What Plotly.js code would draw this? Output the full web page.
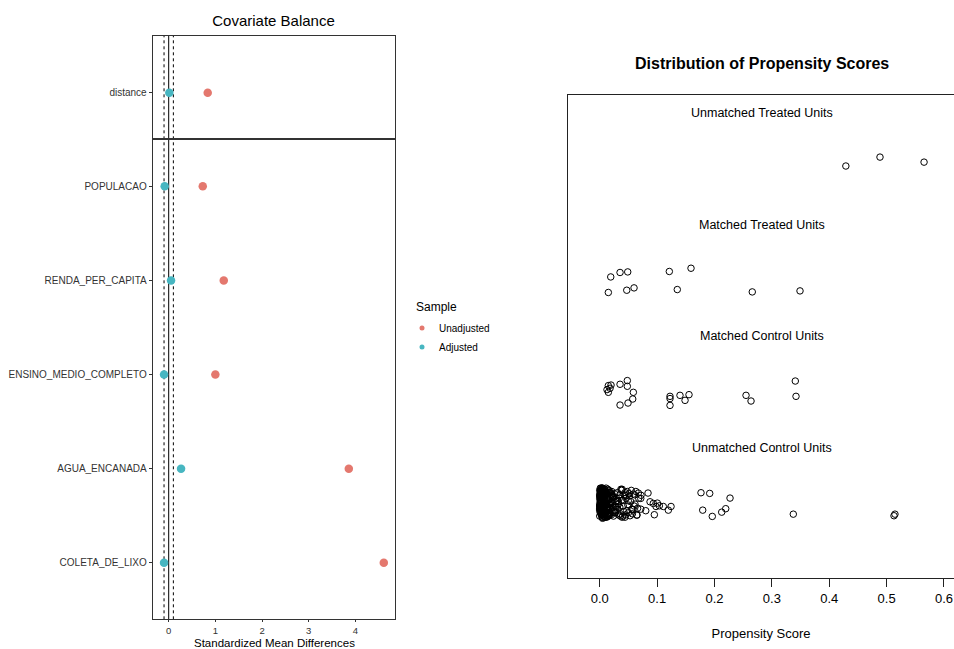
<!DOCTYPE html>
<html>
<head>
<meta charset="utf-8">
<script src="https://cdn.plot.ly/plotly-3.0.1.min.js"></script>
<style>
html,body{margin:0;padding:0;background:#fff;}
#chart{width:954px;height:649px;}
</style>
</head>
<body>
<div id="chart"></div>
<script>
// ---------- Covariate balance (love plot) ----------
const covariates = ['POPULACAO','RENDA_PER_CAPITA','ENSINO_MEDIO_COMPLETO','AGUA_ENCANADA','COLETA_DE_LIXO'];
const covUnadjusted = [0.73, 1.18, 1.00, 3.86, 4.61];
const covAdjusted = [-0.086, 0.05, -0.10, 0.265, -0.10];
const distanceLabel = ['distance'];
const distanceUnadjusted = [0.836];
const distanceAdjusted = [0.013];
const smdTicks = [0, 1, 2, 3, 4];
const thresholds = [-0.1, 0.1];
const sampleNames = ['Unadjusted', 'Adjusted'];
const smdTitle = 'Standardized Mean Differences';

// ---------- Propensity score distribution ----------
const groupLabels = ['Unmatched Treated Units','Matched Treated Units','Matched Control Units','Unmatched Control Units'];
const groupLabelY = [4, 3, 2, 1];
const groupLabelX = 0.283;
const psTicks = [0.0, 0.1, 0.2, 0.3, 0.4, 0.5, 0.6];
const psTickText = ['0.0','0.1','0.2','0.3','0.4','0.5','0.6'];

const treatedUnmatchedX = [0.429, 0.4885, 0.5653];
const treatedUnmatchedY = [3.524, 3.604, 3.559];

const treatedMatchedX = [0.0192,0.0354,0.0488,0.0150,0.0471,0.0598,0.1213,0.1591,0.1352,0.2659,0.3491];
const treatedMatchedY = [2.531,2.571,2.576,2.392,2.412,2.433,2.580,2.609,2.418,2.397,2.406];

const controlMatchedX = [0.0150,0.0197,0.0127,0.0180,0.0150,0.0354,0.0481,0.0481,0.0586,0.0575,0.0493,0.0354,
  0.1225,0.1225,0.1225,0.1399,0.1487,0.1556,0.2550,0.2637,0.3409,0.3421];
const controlMatchedY = [1.558,1.563,1.522,1.534,1.498,1.570,1.603,1.552,1.498,1.438,1.402,1.384,
  1.462,1.442,1.381,1.471,1.426,1.477,1.471,1.420,1.599,1.462];

const controlUnmatchedX = [
  0.001,0.004,0.002,0.007,0.000,0.011,0.003,0.009,0.005,0.014,
  0.002,0.006,0.001,0.012,0.008,0.000,0.016,0.004,0.010,0.003,
  0.005,0.001,0.013,0.007,0.002,0.018,0.009,0.000,0.006,0.011,
  0.003,0.015,0.001,0.008,0.020,0.004,0.012,0.002,0.017,0.006,
  0.000,0.009,0.022,0.005,0.013,0.001,0.010,0.024,0.003,0.007,
  0.014,0.002,0.006,0.019,0.000,0.011,0.026,0.004,0.008,0.016,
  0.001,0.021,0.007,0.003,0.012,0.028,0.005,0.009,0.000,0.018,
  0.006,0.002,0.015,0.023,0.010,0.001,0.004,0.027,0.013,0.008,
  0.002,0.011,0.000,0.017,0.005,0.029,0.008,0.014,0.003,0.020,
  0.009,0.004,0.025,0.001,0.012,0.006,0.019,0.000,0.015,0.030,
  0.003,0.016,0.007,0.010,0.022,0.002,0.013,0.005,0.026,0.001,
  0.008,0.000,0.018,0.004,0.011,0.024,0.006,0.015,0.002,0.021,
  0.012,0.005,0.001,0.027,0.009,0.003,0.017,0.007,0.029,0.000,
  0.004,0.019,0.010,0.002,0.014,0.006,0.023,0.001,0.011,0.016,
  0.007,0.013,0.003,0.020,0.000,0.025,0.008,0.012,0.005,0.018,
  0.010,0.001,0.022,0.006,0.016,0.002,0.028,0.009,0.004,0.014,
  0.031,0.035,0.033,0.038,0.032,0.041,0.036,0.034,0.044,0.039,
  0.037,0.042,0.046,0.033,0.040,0.048,0.035,0.043,0.050,0.038,
  0.045,0.052,0.031,0.047,0.055,0.041,0.058,0.036,0.049,0.061,
  0.054,0.063,0.044,0.066,0.051,0.057,0.068,0.060,0.039,0.065,
  0.0458,0.0498,0.0558,0.0528,0.0645,0.0715,0.0615,0.0586,0.0673,0.0715,0.0802,
  0.0952,0.0842,0.0877,0.0934,0.0981,0.1039,0.1108,0.1196,0.1243,0.0720,0.1004,
  0.1765,0.1917,0.2271,0.1795,0.1962,0.2126,0.2196,0.3374,0.5129,0.5146
];
const controlUnmatchedY = [
  0.42,0.55,0.61,0.47,0.39,0.58,0.51,0.63,0.44,0.50,
  0.60,0.40,0.53,0.45,0.57,0.48,0.62,0.38,0.52,0.56,
  0.46,0.59,0.41,0.54,0.63,0.49,0.43,0.57,0.39,0.61,
  0.52,0.44,0.48,0.62,0.40,0.58,0.55,0.45,0.60,0.41,
  0.55,0.38,0.51,0.64,0.47,0.60,0.42,0.56,0.53,0.49,
  0.39,0.57,0.44,0.50,0.62,0.46,0.59,0.41,0.63,0.54,
  0.48,0.61,0.56,0.40,0.43,0.52,0.38,0.58,0.50,0.45,
  0.62,0.45,0.39,0.57,0.49,0.54,0.64,0.42,0.60,0.40,
  0.43,0.50,0.58,0.41,0.61,0.47,0.55,0.63,0.46,0.59,
  0.57,0.63,0.44,0.49,0.38,0.60,0.52,0.45,0.40,0.53,
  0.40,0.54,0.62,0.43,0.57,0.51,0.46,0.59,0.42,0.64,
  0.51,0.48,0.41,0.60,0.64,0.39,0.56,0.53,0.47,0.58,
  0.59,0.42,0.46,0.48,0.53,0.62,0.40,0.61,0.55,0.44,
  0.45,0.60,0.50,0.55,0.39,0.63,0.47,0.52,0.58,0.42,
  0.53,0.39,0.64,0.51,0.46,0.43,0.61,0.49,0.37,0.57,
  0.38,0.62,0.56,0.42,0.50,0.57,0.45,0.60,0.48,0.39,
  0.45,0.58,0.40,0.62,0.52,0.48,0.41,0.55,0.60,0.38,
  0.63,0.43,0.55,0.50,0.39,0.61,0.47,0.58,0.42,0.53,
  0.40,0.57,0.60,0.44,0.62,0.53,0.45,0.39,0.49,0.58,
  0.52,0.61,0.38,0.46,0.59,0.41,0.55,0.48,0.63,0.40,
  0.572,0.527,0.452,0.393,0.398,0.452,0.497,0.587,0.596,0.548,0.438,
  0.402,0.596,0.518,0.503,0.476,0.482,0.476,0.443,0.476,0.576,0.506,
  0.599,0.593,0.551,0.443,0.387,0.425,0.456,0.407,0.393,0.407
];

// ---------- styling ----------
const W = 954, H = 649;
const colUnadj = '#E4786E';
const colAdj = '#47B6C1';
const font = 'Liberation Sans, Arial, sans-serif';
const px = v => v / W;
const py = v => 1 - v / H;

const leftDom = [px(152.7), px(395)];
const botDom = [py(619.3), py(139.3)];
const topDom = [py(139.3), py(35.7)];
const rightXDom = [px(568), 1];
const rightYDom = [py(577.5), py(95)];

const dot = (c) => ({color: c, size: 8.5});
const openCircle = {symbol: 'circle-open', size: 6.5, color: '#000', line: {width: 1, color: '#000'}};

const traces = [
  {type:'scatter', mode:'markers', x: covUnadjusted, y: covariates, xaxis:'x', yaxis:'y', marker: dot(colUnadj), name: sampleNames[0], showlegend:false, cliponaxis:false},
  {type:'scatter', mode:'markers', x: covAdjusted, y: covariates, xaxis:'x', yaxis:'y', marker: dot(colAdj), name: sampleNames[1], showlegend:false, cliponaxis:false},
  {type:'scatter', mode:'markers', x: distanceUnadjusted, y: distanceLabel, xaxis:'x2', yaxis:'y2', marker: dot(colUnadj), showlegend:false},
  {type:'scatter', mode:'markers', x: distanceAdjusted, y: distanceLabel, xaxis:'x2', yaxis:'y2', marker: dot(colAdj), showlegend:false},
  {type:'scatter', mode:'markers', x: treatedUnmatchedX, y: treatedUnmatchedY, xaxis:'x3', yaxis:'y3', marker: openCircle, showlegend:false},
  {type:'scatter', mode:'markers', x: treatedMatchedX, y: treatedMatchedY, xaxis:'x3', yaxis:'y3', marker: openCircle, showlegend:false},
  {type:'scatter', mode:'markers', x: controlMatchedX, y: controlMatchedY, xaxis:'x3', yaxis:'y3', marker: openCircle, showlegend:false},
  {type:'scatter', mode:'markers', x: controlUnmatchedX, y: controlUnmatchedY, xaxis:'x3', yaxis:'y3', marker: openCircle, showlegend:false}
];

const shapes = [];
// reference lines across both facets
shapes.push({type:'line', xref:'x', yref:'paper', x0:0, x1:0, y0:botDom[0], y1:topDom[1], line:{color:'#000', width:1}, layer:'below'});
thresholds.forEach(t => shapes.push({type:'line', xref:'x', yref:'paper', x0:t, x1:t, y0:botDom[0], y1:topDom[1], line:{color:'#000', width:1, dash:'3px,3px'}, layer:'below'}));
// legend keys
const legendDotY = [328, 347];
sampleNames.forEach((n, i) => {
  const c = i === 0 ? colUnadj : colAdj;
  shapes.push({type:'circle', xref:'paper', yref:'paper', x0:px(419.5), x1:px(424.5), y0:py(legendDotY[i]+2.5), y1:py(legendDotY[i]-2.5), fillcolor:c, line:{width:0}});
});

const annotations = [
  {xref:'paper', yref:'paper', x:px(761.5), y:py(64), text:'<b>Distribution of Propensity Scores</b>', showarrow:false, xanchor:'center', yanchor:'middle', font:{family:font, size:16, color:'#000'}},
  {xref:'paper', yref:'paper', x:px(414), y:py(307), text:'Sample', showarrow:false, xanchor:'left', yanchor:'middle', font:{family:font, size:12, color:'#000'}},
  {xref:'paper', yref:'paper', x:px(274), y:py(650), text:smdTitle, showarrow:false, xanchor:'center', yanchor:'bottom', borderpad:0, font:{family:font, size:11.5, color:'#000'}},
];
sampleNames.forEach((n, i) => annotations.push({xref:'paper', yref:'paper', x:px(437), y:py(legendDotY[i]), text:n, showarrow:false, xanchor:'left', yanchor:'middle', font:{family:font, size:10, color:'#000'}}));
groupLabels.forEach((t, i) => annotations.push({xref:'x3', yref:'y3', x:groupLabelX, y:groupLabelY[i], text:t, showarrow:false, xanchor:'center', yanchor:'middle', font:{family:font, size:12.5, color:'#000'}}));

const borderCol = '#333';
const layout = {
  width: W, height: H,
  margin: {l:0, r:0, t:0, b:0, pad:0},
  paper_bgcolor:'#fff', plot_bgcolor:'#fff',
  font: {family: font, color:'#000'},
  showlegend: false,
  title: {text:'Covariate Balance', x: px(273.5), xanchor:'center', y: py(21), yanchor:'middle', font:{family:font, size:15, color:'#000'}},
  xaxis: {domain: leftDom, anchor:'y', range:[-0.343, 4.85], tickvals: smdTicks, ticks:'outside', ticklen:2, tickcolor:borderCol,
    showgrid:false, zeroline:false, showline:true, mirror:true, linecolor:borderCol, linewidth:1,
    tickfont:{family:font, size:9.5, color:'#333'}},
  yaxis: {domain: botDom, anchor:'x', type:'category', categoryorder:'array', categoryarray: covariates.slice().reverse(), range:[-0.6, 4.5],
    ticks:'outside', ticklen:3, tickcolor:borderCol, showgrid:false, zeroline:false, showline:true, mirror:true, linecolor:borderCol, linewidth:1,
    tickfont:{family:font, size:10, color:'#333'}},
  xaxis2: {domain: leftDom, anchor:'y2', matches:'x', range:[-0.343, 4.85], showticklabels:false, ticks:'', showgrid:false, zeroline:false,
    showline:true, mirror:true, linecolor:borderCol, linewidth:1},
  yaxis2: {domain: topDom, anchor:'x2', type:'category', range:[-0.495, 0.605], ticks:'outside', ticklen:3, tickcolor:borderCol,
    showgrid:false, zeroline:false, showline:true, mirror:true, linecolor:borderCol, linewidth:1,
    tickfont:{family:font, size:10, color:'#333'}},
  xaxis3: {domain: rightXDom, anchor:'y3', range:[-0.0553, 0.6175], tickvals: psTicks, ticktext: psTickText, ticks:'outside', ticklen:8,
    tickcolor:'#222', showgrid:false, zeroline:false, showline:true, mirror:true, linecolor:'#222', linewidth:1,
    tickfont:{family:font, size:13, color:'#000'}, ticklabelstandoff:1, ticklabeloverflow:'allow',
    title:{text:'Propensity Score', font:{family:font, size:13, color:'#000'}, standoff:23}},
  yaxis3: {domain: rightYDom, anchor:'x3', range:[-0.16, 4.16], showticklabels:false, ticks:'', showgrid:false, zeroline:false,
    showline:true, mirror:false, linecolor:'#222', linewidth:1},
  shapes: shapes,
  annotations: annotations
};

Plotly.newPlot('chart', traces, layout, {staticPlot:true, displayModeBar:false});
</script>
</body>
</html>
